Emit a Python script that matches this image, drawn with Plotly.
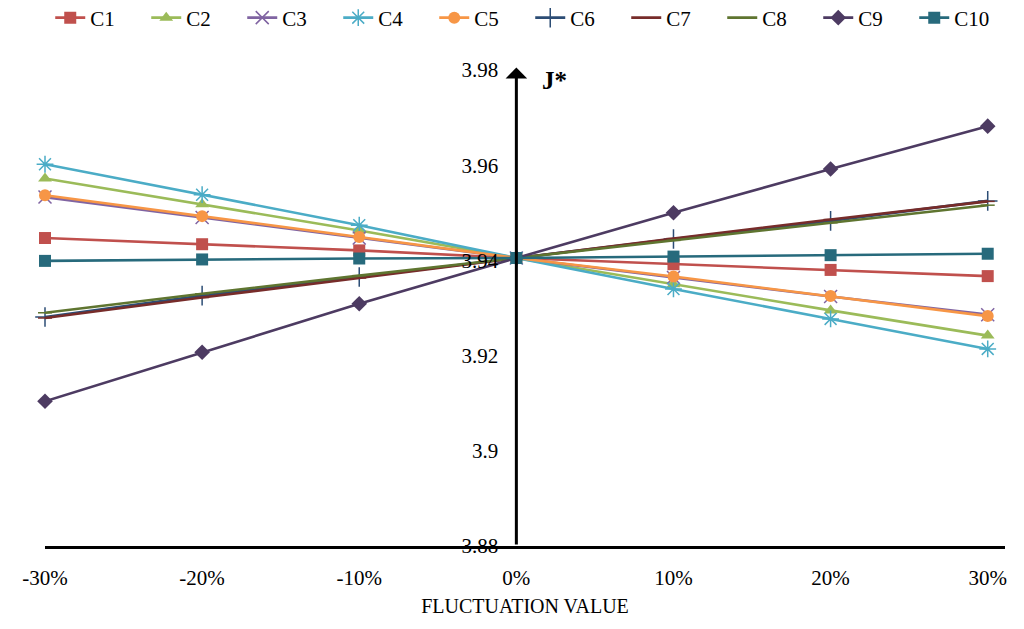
import plotly.graph_objects as go

x_vals = [-30, -20, -10, 0, 10, 20, 30]
x_labels = ["-30%", "-20%", "-10%", "0%", "10%", "20%", "30%"]
y_ticks = [3.88, 3.90, 3.92, 3.94, 3.96, 3.98]
y_labels = ["3.88", "3.9", "3.92", "3.94", "3.96", "3.98"]

series_names = ["C1", "C2", "C3", "C4", "C5", "C6", "C7", "C8", "C9", "C10"]
C1 = [3.9447, 3.9434, 3.9421, 3.9405, 3.9392, 3.9380, 3.9367]
C2 = [3.9572, 3.9518, 3.9463, 3.9405, 3.9350, 3.9295, 3.9242]
C3 = [3.9533, 3.9490, 3.9447, 3.9405, 3.9364, 3.9324, 3.9286]
C4 = [3.9602, 3.9538, 3.9474, 3.9405, 3.9340, 3.9277, 3.9214]
C5 = [3.9537, 3.9493, 3.9449, 3.9405, 3.9366, 3.9325, 3.9283]
C6 = [3.9281, 3.9326, 3.9365, 3.9405, 3.9445, 3.9483, 3.9525]
C7 = [3.9279, 3.9322, 3.9363, 3.9405, 3.9446, 3.9486, 3.9524]
C8 = [3.9290, 3.9330, 3.9368, 3.9405, 3.9442, 3.9479, 3.9516]
C9 = [3.9104, 3.9207, 3.9309, 3.9405, 3.9500, 3.9592, 3.9682]
C10 = [3.9399, 3.9402, 3.9404, 3.9405, 3.9408, 3.9411, 3.9414]
series_values = [C1, C2, C3, C4, C5, C6, C7, C8, C9, C10]

colors = ["#C0504D", "#9BBB59", "#8064A2", "#4BACC6", "#F79646",
          "#2C4D75", "#772C2A", "#5F7530", "#4D3B62", "#276A7C"]
symbols = ["square", "triangle-up", "x-thin", "asterisk-open", "circle",
           "cross-thin", "line-ew", "line-ew", "diamond", "square"]
sizes = [12, 12, 13, 14, 12, 14, 10, 10, 12, 12]

FONT = "Liberation Serif"

# page offset (browser body margin) compensation
OFF = 8
L, R, T, B = 45 - OFF, 27, 70 - OFF, 91
PW = 1024 - L - R
PH = 629 - T - B

fig = go.Figure()
for name, vals, col, sym, sz in zip(series_names, series_values, colors, symbols, sizes):
    open_like = sym in ("x-thin", "asterisk-open", "cross-thin", "line-ew")
    fig.add_trace(go.Scatter(
        x=x_vals, y=vals, name=name, mode="lines+markers",
        line=dict(color=col, width=2.6),
        marker=dict(symbol=sym, size=sz, color=col,
                    line=dict(color=col, width=1.5 if open_like else 0)),
        cliponaxis=False,
    ))

fig.add_annotation(
    x=0, y=3.9805, ax=0, ay=3.88, xref="x", yref="y", axref="x", ayref="y",
    showarrow=True, arrowhead=1, arrowsize=1.2, arrowwidth=3, arrowcolor="black", text="",
)
fig.add_annotation(
    x=(554 - 45) / PW, y=1 - (80 - 70) / PH, xref="paper", yref="paper",
    text="<b>J*</b>", showarrow=False, xanchor="center", yanchor="middle",
    font=dict(family=FONT, size=25, color="black"),
)

fig.update_layout(
    width=1024, height=629,
    margin=dict(l=L, r=R, t=T, b=B, autoexpand=False),
    paper_bgcolor="white", plot_bgcolor="white",
    font=dict(family=FONT, size=20, color="black"),
    legend=dict(orientation="h", x=0.51, xanchor="center", xref="container",
                y=1 - (18 - OFF) / 629, yref="container", yanchor="middle",
                font=dict(family=FONT, size=21, color="black"), itemwidth=30,
                entrywidth=51, entrywidthmode="pixels", tracegroupgap=0),
    xaxis=dict(range=[-30, 31.1], tickvals=x_vals, ticktext=x_labels,
               showgrid=False, zeroline=False, showline=True, linecolor="black", linewidth=3,
               ticks="", ticklabelstandoff=11,
               tickfont=dict(family=FONT, size=21, color="black"),
               title=dict(text="FLUCTUATION VALUE",
                          font=dict(family=FONT, size=20, color="black"), standoff=10)),
    yaxis=dict(range=[3.88, 3.98], tickvals=y_ticks, ticktext=y_labels,
               showgrid=False, zeroline=False, showline=False,
               anchor="free", position=30 / 61.1, ticks="", ticklabelstandoff=18,
               tickfont=dict(family=FONT, size=21, color="black")),
    showlegend=True,
)

fig.write_html("out.html")
